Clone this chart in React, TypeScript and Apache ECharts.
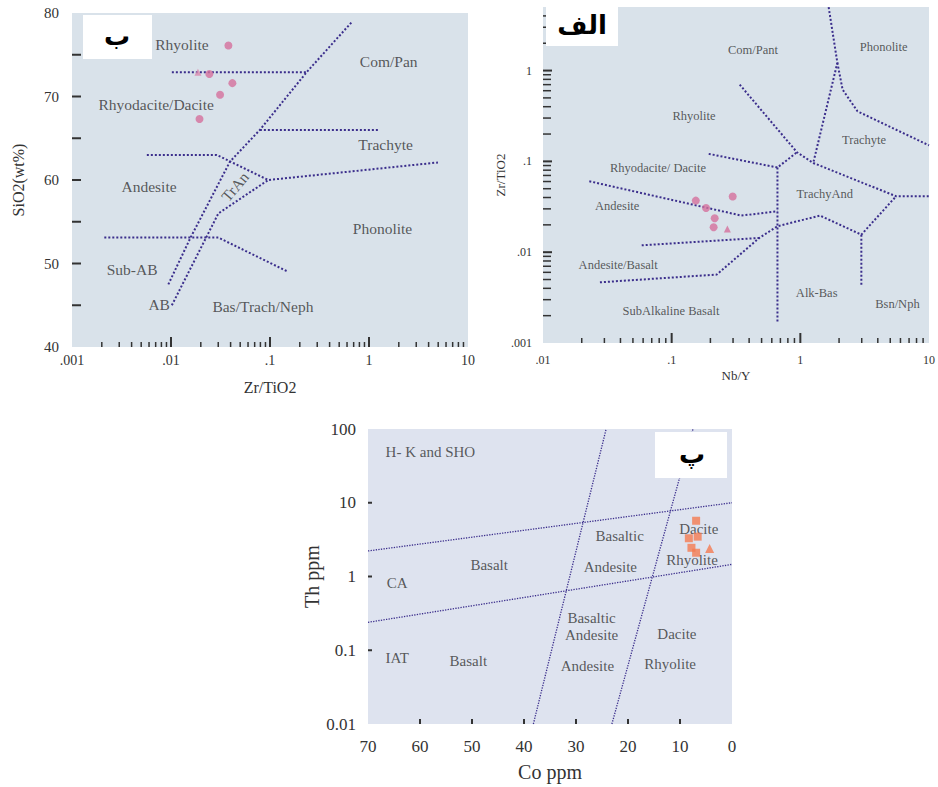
import React, { useEffect, useRef } from 'react';
import * as echarts from 'echarts';

const lg = (v: number) => Math.log10(v);
const id = (v: number) => v;
const SERIF = "'Liberation Serif', 'Times New Roman', serif";
const LINE = '#3b2e8c';
const TXT = '#333333';

// ---------- Panel ب : Zr/TiO2 (log) vs SiO2 ----------
const bZrTi = [0.038, 0.0244, 0.0417, 0.0313, 0.0194];
const bSiO2 = [76.1, 72.7, 71.6, 70.2, 67.3];
const bTriZrTi = [0.0187];
const bTriSiO2 = [72.9];
const bBoundaries: number[][][] = [
  [[0.0094, 47.5], [0.0156, 53.0], [0.0394, 62.2], [0.079, 66], [0.234, 72.9], [0.68, 79]],
  [[0.0102, 45.0], [0.0301, 56.0], [0.096, 60.0]],
  [[0.0102, 72.9], [0.234, 72.9]],
  [[0.079, 66], [1.28, 66]],
  [[0.0057, 63.0], [0.029, 63.0], [0.096, 60.0], [4.97, 62.1]],
  [[0.00212, 53.1], [0.0301, 53.1], [0.153, 49.0]],
];
const bLabelNames = ['Rhyolite', 'Com/Pan', 'Rhyodacite/Dacite', 'Trachyte', 'Andesite', 'TrAn', 'Phonolite', 'Sub-AB', 'AB', 'Bas/Trach/Neph'];
const bLabelX = [0.0129, 1.58, 0.00708, 1.47, 0.006, 0.0443, 1.37, 0.00405, 0.00759, 0.0848];
const bLabelY = [76.2, 74.2, 69.1, 64.2, 59.2, 59.2, 54.2, 49.3, 45.1, 44.8];

// ---------- Panel الف : Nb/Y (log) vs Zr/TiO2 (log) ----------
const aNbY = [0.154, 0.185, 0.216, 0.212, 0.298];
const aZrTi = [0.037, 0.0307, 0.0236, 0.0188, 0.041];
const aTriNbY = [0.271];
const aTriZrTi = [0.018];
const aBoundaries: number[][][] = [
  [[1.66, 5.0], [1.94, 1.22], [1.26, 0.096]],
  [[1.94, 1.22], [2.13, 0.618], [2.78, 0.356], [10, 0.15]],
  [[0.338, 0.7], [0.942, 0.126], [1.26, 0.096], [5.55, 0.0413], [10, 0.0413]],
  [[0.194, 0.121], [0.664, 0.0856], [0.942, 0.126]],
  [[0.664, 0.0856], [0.664, 0.0017]],
  [[0.0229, 0.0604], [0.348, 0.0253], [0.664, 0.0282]],
  [[0.0585, 0.0119], [0.48, 0.01437]],
  [[0.0277, 0.00466], [0.224, 0.00567], [0.48, 0.01437], [0.664, 0.0193], [1.42, 0.0253], [2.98, 0.0156], [5.55, 0.0413]],
  [[2.98, 0.0156], [2.98, 0.00421]],
];
const aLabelNames = ['Com/Pant', 'Phonolite', 'Rhyolite', 'Trachyte', 'Rhyodacite/ Dacite', 'TrachyAnd', 'Andesite', 'Andesite/Basalt', 'Alk-Bas', 'Bsn/Nph', 'SubAlkaline Basalt'];
const aLabelX = [0.428, 4.44, 0.149, 3.13, 0.0783, 1.55, 0.0377, 0.0384, 1.34, 5.68, 0.0989];
const aLabelY = [1.67, 1.81, 0.319, 0.174, 0.0848, 0.0439, 0.032, 0.0073, 0.00356, 0.00272, 0.00223];

// ---------- Panel پ : Co ppm vs Th ppm (log) ----------
const pCo = [6.9, 8.3, 6.6, 7.8, 6.9];
const pTh = [5.7, 3.3, 3.47, 2.45, 2.1];
const pTriCo = [4.3];
const pTriTh = [2.4];
const pBoundaries: number[][][] = [
  [[70, 2.22], [0, 10]],
  [[70, 0.239], [0, 1.46]],
  [[38.2, 0.01], [24.2, 100]],
  [[23.1, 0.01], [7.5, 100]],
];
const pLabelNames = ['H- K and SHO', 'Basalt', 'CA', 'Basaltic', 'Andesite', 'Dacite', 'Rhyolite', 'Basaltic\nAndesite', 'Dacite', 'IAT', 'Basalt', 'Andesite', 'Rhyolite'];
const pLabelX = [58.0, 46.7, 64.4, 21.6, 23.4, 6.4, 7.7, 27.0, 10.6, 64.4, 50.7, 27.8, 11.9];
const pLabelY = [49.2, 1.43, 0.81, 3.57, 1.36, 4.41, 1.67, 0.213, 0.164, 0.0793, 0.0721, 0.0618, 0.0652];

// ---------- helpers ----------
const dotFmt = (v: number) => {
  const p = Math.round(v);
  if (Math.abs(v - p) > 1e-6) return '';
  return p < 0 ? '.' + '0'.repeat(-p - 1) + '1' : String(Math.pow(10, p));
};
const zeroFmt = (v: number) => {
  const p = Math.round(v);
  if (Math.abs(v - p) > 1e-6) return '';
  return p < 0 ? '0.' + '0'.repeat(-p - 1) + '1' : String(Math.pow(10, p));
};
const logMinor = (from: number, to: number, max: number) => {
  const out: number[] = [];
  for (let n = from; n < to; n++) for (let k = 2; k <= 9; k++) { const v = n + Math.log10(k); if (v < max) out.push(v); }
  return out;
};

const lineSeries = (gi: number, pts: number[][], tx: (v: number) => number, ty: (v: number) => number, width: number) => ({
  type: 'line', xAxisIndex: gi, yAxisIndex: gi, silent: true, z: 3,
  data: pts.map(([x, y]) => [tx(x), ty(y)]),
  showSymbol: false, symbol: 'none',
  lineStyle: { type: 'dotted', color: LINE, width },
});

const pointSeries = (gi: number, xs: number[], ys: number[], tx: (v: number) => number, ty: (v: number) => number, symbol: string, size: number, color: string) => ({
  type: 'scatter', xAxisIndex: gi, yAxisIndex: gi, silent: true, z: 6,
  symbol, symbolSize: size, itemStyle: { color },
  data: xs.map((x, i) => [tx(x), ty(ys[i])]),
});

const labelSeries = (gi: number, names: string[], xs: number[], ys: number[], tx: (v: number) => number, ty: (v: number) => number, fontSize: number, extra: Record<string, any> = {}) => ({
  type: 'scatter', xAxisIndex: gi, yAxisIndex: gi, silent: true, z: 4,
  symbolSize: 0.1, itemStyle: { color: 'rgba(0,0,0,0)' },
  label: { show: true, position: 'inside', formatter: '{b}', color: TXT, fontSize, fontFamily: SERIF, lineHeight: fontSize + 2 },
  data: names.map((n, i) => ({ name: n, value: [tx(xs[i]), ty(ys[i])], ...(extra[n] || {}) })),
});

const tickSeries = (gi: number, ticks: number[][]) => ({
  type: 'custom', xAxisIndex: gi, yAxisIndex: gi, silent: true, clip: false, z: 5,
  dimensions: ['x', 'y', 'dx', 'dy', 'w'],
  encode: { x: 0, y: 1 },
  data: ticks,
  renderItem: (params: any, api: any) => {
    const p = api.coord([api.value(0), api.value(1)]);
    return {
      type: 'line',
      shape: { x1: p[0], y1: p[1], x2: p[0] + api.value(2), y2: p[1] + api.value(3) },
      style: { stroke: '#333', lineWidth: api.value(4) },
    };
  },
});

// tick positions (axis structure)
const bTicks: number[][] = [
  ...[-2, -1, 0].map((v) => [v, 40, 0, -10, 2]),
  ...logMinor(-3, 1, 1).map((v) => [v, 40, 0, -5, 1.5]),
  ...[45, 50, 55, 60, 65, 70, 75].map((v) => [-3, v, 9, 0, 2]),
];
const aTicks: number[][] = [
  ...[-1, 0].map((v) => [v, -3, 0, -10, 2]),
  ...logMinor(-2, 1, 1).map((v) => [v, -3, 0, -5, 1.5]),
  ...[-2, -1, 0].map((v) => [-2, v, 9, 0, 2]),
  ...logMinor(-3, 1, 0.69).map((v) => [-2, v, 8, 0, 1.5]),
];
const pTicks: number[][] = [
  ...[60, 50, 40, 30, 20, 10].map((v) => [v, -2, 0, -5, 2]),
  ...[-1, 0, 1].map((v) => [70, v, 4, 0, 2]),
];

const axisLabelBase = { color: '#333', fontFamily: SERIF };
const nameStyle = (size: number) => ({ color: '#333', fontFamily: SERIF, fontSize: size });

const option: any = {
  animation: false,
  backgroundColor: '#ffffff',
  textStyle: { fontFamily: SERIF },
  grid: [
    { left: 72, top: 13, width: 396, height: 334, show: true, backgroundColor: '#d9e2ea', borderWidth: 0 },
    { left: 543, top: 7, width: 394, height: 336, show: true, backgroundColor: '#d9e2ea', borderWidth: 0 },
    { left: 368, top: 429, width: 364, height: 295, show: true, backgroundColor: '#dee3ef', borderWidth: 0 },
  ],
  xAxis: [
    {
      type: 'value', gridIndex: 0, min: -3, max: 1, interval: 1,
      axisLine: { show: false }, axisTick: { show: false }, splitLine: { show: false },
      axisLabel: { ...axisLabelBase, fontSize: 14, margin: 6, formatter: dotFmt },
      name: 'Zr/TiO2', nameLocation: 'middle', nameGap: 32, nameTextStyle: nameStyle(16),
    },
    {
      type: 'value', gridIndex: 1, min: -2, max: 1, interval: 1,
      axisLine: { show: false }, axisTick: { show: false }, splitLine: { show: false },
      axisLabel: { ...axisLabelBase, fontSize: 12, margin: 11, formatter: dotFmt, alignMaxLabel: 'center', alignMinLabel: 'center' },
      name: 'Nb/Y', nameLocation: 'middle', nameGap: 26, nameTextStyle: nameStyle(13),
    },
    {
      type: 'value', gridIndex: 2, min: 0, max: 70, interval: 10, inverse: true,
      axisLine: { show: false }, axisTick: { show: false }, splitLine: { show: false },
      axisLabel: { ...axisLabelBase, fontSize: 17, margin: 14 },
      name: 'Co ppm', nameLocation: 'middle', nameGap: 38, nameTextStyle: nameStyle(20),
    },
  ],
  yAxis: [
    {
      type: 'value', gridIndex: 0, min: 40, max: 80, interval: 5,
      axisLine: { show: false }, axisTick: { show: false }, splitLine: { show: false },
      axisLabel: { ...axisLabelBase, fontSize: 15, margin: 13, formatter: (v: number) => (v % 10 === 0 ? String(v) : '') },
      name: 'SiO2(wt%)', nameLocation: 'middle', nameGap: 46, nameTextStyle: nameStyle(16),
    },
    {
      type: 'value', gridIndex: 1, min: -3, max: 0.7, interval: 1,
      axisLine: { show: false }, axisTick: { show: false }, splitLine: { show: false },
      axisLabel: { ...axisLabelBase, fontSize: 12, margin: 11, formatter: dotFmt },
      name: 'Zr/TiO2', nameLocation: 'middle', nameGap: 36, nameTextStyle: nameStyle(13),
    },
    {
      type: 'value', gridIndex: 2, min: -2, max: 2, interval: 1,
      axisLine: { show: false }, axisTick: { show: false }, splitLine: { show: false },
      axisLabel: { ...axisLabelBase, fontSize: 17, margin: 12, formatter: zeroFmt },
      name: 'Th ppm', nameLocation: 'middle', nameGap: 44, nameTextStyle: nameStyle(20),
    },
  ],
  series: [
    ...bBoundaries.map((pts) => lineSeries(0, pts, lg, id, 2)),
    ...aBoundaries.map((pts) => lineSeries(1, pts, lg, lg, 2)),
    ...pBoundaries.map((pts) => lineSeries(2, pts, id, lg, 1.3)),
    labelSeries(0, bLabelNames, bLabelX, bLabelY, lg, id, 15.5, { TrAn: { label: { rotate: 50 } } }),
    labelSeries(1, aLabelNames, aLabelX, aLabelY, lg, lg, 12.5),
    labelSeries(2, pLabelNames, pLabelX, pLabelY, id, lg, 15),
    tickSeries(0, bTicks),
    tickSeries(1, aTicks),
    tickSeries(2, pTicks),
    pointSeries(0, bZrTi, bSiO2, lg, id, 'circle', 8, '#d4709c'),
    pointSeries(0, bTriZrTi, bTriSiO2, lg, id, 'triangle', 7, '#d98aae'),
    pointSeries(1, aNbY, aZrTi, lg, lg, 'circle', 8, '#d4709c'),
    pointSeries(1, aTriNbY, aTriZrTi, lg, lg, 'triangle', 7, '#d4709c'),
    pointSeries(2, pCo, pTh, id, lg, 'rect', 8, '#f47b51'),
    pointSeries(2, pTriCo, pTriTh, id, lg, 'triangle', 9, '#f47b51'),
  ],
  graphic: [
    { type: 'rect', z: 100, shape: { x: 83, y: 15, width: 69, height: 44 }, style: { fill: '#ffffff' } },
    { type: 'text', z: 101, x: 117, y: 36, style: { text: 'ب', font: 'bold 26px "DejaVu Sans"', fill: '#000', align: 'center', verticalAlign: 'middle', textAlign: 'center', textVerticalAlign: 'middle' } },
    { type: 'rect', z: 100, shape: { x: 546, y: 7, width: 72, height: 39 }, style: { fill: '#ffffff' } },
    { type: 'text', z: 101, x: 582, y: 25, style: { text: 'الف', font: 'bold 26px "DejaVu Sans"', fill: '#000', align: 'center', verticalAlign: 'middle', textAlign: 'center', textVerticalAlign: 'middle' } },
    { type: 'rect', z: 100, shape: { x: 655, y: 432, width: 72, height: 46 }, style: { fill: '#ffffff' } },
    { type: 'text', z: 101, x: 692, y: 454, style: { text: 'پ', font: 'bold 26px "DejaVu Sans"', fill: '#000', align: 'center', verticalAlign: 'middle', textAlign: 'center', textVerticalAlign: 'middle' } },
  ],
};

export default function App() {
  const ref = useRef<HTMLDivElement>(null);
  useEffect(() => {
    const chart = echarts.init(ref.current!, null, { renderer: 'svg' });
    chart.setOption(option);
    return () => chart.dispose();
  }, []);
  return <div ref={ref} style={{ position: 'fixed', left: 0, top: 0, width: 938, height: 787, background: '#fff' }} />;
}
